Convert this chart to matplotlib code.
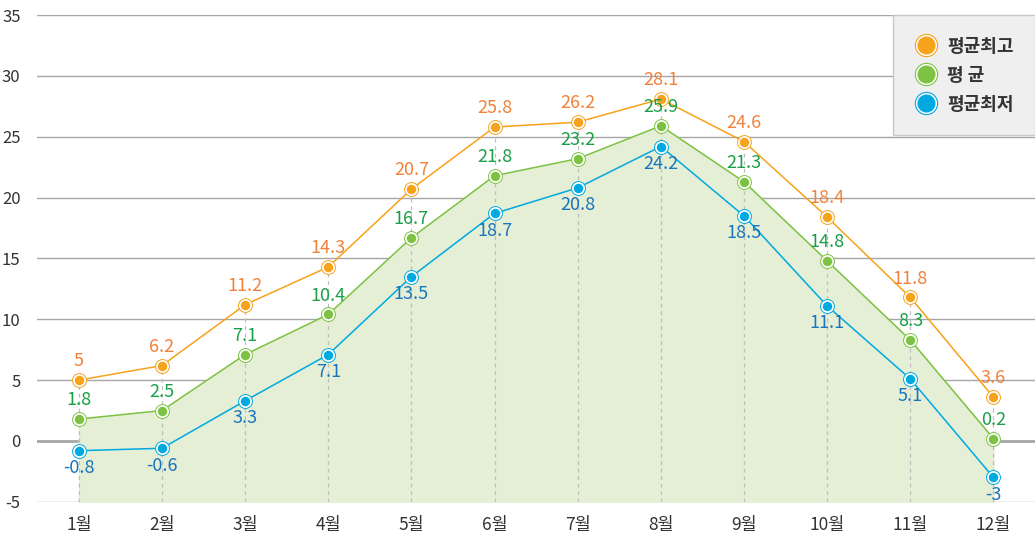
import matplotlib
matplotlib.use('Agg')
import matplotlib.pyplot as plt
from matplotlib.lines import Line2D

plt.rcParams['font.family'] = ['Noto Sans CJK KR', 'DejaVu Sans']

months = ['1월', '2월', '3월', '4월', '5월', '6월', '7월', '8월', '9월', '10월', '11월', '12월']
t_max = [5, 6.2, 11.2, 14.3, 20.7, 25.8, 26.2, 28.1, 24.6, 18.4, 11.8, 3.6]
t_avg = [1.8, 2.5, 7.1, 10.4, 16.7, 21.8, 23.2, 25.9, 21.3, 14.8, 8.3, 0.2]
t_min = [-0.8, -0.6, 3.3, 7.1, 13.5, 18.7, 20.8, 24.2, 18.5, 11.1, 5.1, -3]
series_names = ['평균최고', '평 균', '평균최저']

line_colors = ['#f7a21b', '#7dc242', '#00a9e0']
text_colors = ['#f0823c', '#1a9f48', '#1b75bb']

fig = plt.figure(figsize=(10.35, 5.39), dpi=100)
ax = fig.add_axes([0.036, 0.069, 0.964, 0.903])
x = list(range(len(months)))

ymin, ymax = -5, 35
ax.set_ylim(ymin, ymax)
ax.set_xlim(-0.5, 11.5)

for v in range(-5, 36, 5):
    ax.axhline(v, color='#a6a6a6', lw=2 if v == 0 else 1, zorder=1)

# dashed drop lines
for i in x:
    ax.plot([i, i], [ymin, t_max[i]], color='#bdbdbd', lw=0.9, ls=(0, (3, 3)), zorder=2)

ax.fill_between(x, t_avg, ymin, color='#e4efd6', zorder=1.5)

for vals, c in zip([t_max, t_avg, t_min], line_colors):
    ax.plot(x, vals, color=c, lw=1.1, zorder=3)
    ax.plot(x, vals, 'o', ms=10, mfc='white', mec=c, mew=0.7, zorder=4)
    ax.plot(x, vals, 'o', ms=6.8, mfc=c, mec=c, mew=0, zorder=5)

def fmt(v):
    return ('%g' % v)

for i in x:
    ax.annotate(fmt(t_max[i]), (i, t_max[i]), xytext=(0, 7), textcoords='offset points',
                ha='center', va='bottom', color=text_colors[0], fontsize=13, zorder=6)
    ax.annotate(fmt(t_avg[i]), (i, t_avg[i]), xytext=(0, 7), textcoords='offset points',
                ha='center', va='bottom', color=text_colors[1], fontsize=13, zorder=6)
    ax.annotate(fmt(t_min[i]), (i, t_min[i]), xytext=(0, -6), textcoords='offset points',
                ha='center', va='top', color=text_colors[2], fontsize=13, zorder=6)

ax.set_xticks(x)
ax.set_xticklabels(months, fontsize=12.5, color='#333333')
ax.set_yticks(range(-5, 36, 5))
ax.set_yticklabels([str(v) for v in range(-5, 36, 5)], fontsize=12, color='#333333')
ax.tick_params(length=0, axis='both')
ax.tick_params(axis='x', pad=10)
ax.tick_params(axis='y', pad=12)
for s in ax.spines.values():
    s.set_visible(False)

# legend box
handles = []
for c in line_colors:
    handles.append((Line2D([], [], marker='o', ls='', ms=16, mfc='white', mec=c, mew=0.8),
                    Line2D([], [], marker='o', ls='', ms=13, mfc=c, mec=c, mew=0)))
leg = ax.legend(handles, series_names, loc='upper right', bbox_to_anchor=(1.0, 1.0),
                frameon=True, fontsize=13, handletextpad=0.5, labelspacing=0.55,
                borderpad=1.2, handlelength=1.3, borderaxespad=0)
frame = leg.get_frame()
frame.set_facecolor('#efefef')
frame.set_edgecolor('#c8c8c8')
frame.set_linewidth(1)
frame.set_boxstyle('square', pad=0)
frame.set_alpha(1)
leg.set_zorder(10)
for t in leg.get_texts():
    t.set_color('#333333')
    t.set_fontweight('bold')

fig.savefig('out.png', dpi=100)
